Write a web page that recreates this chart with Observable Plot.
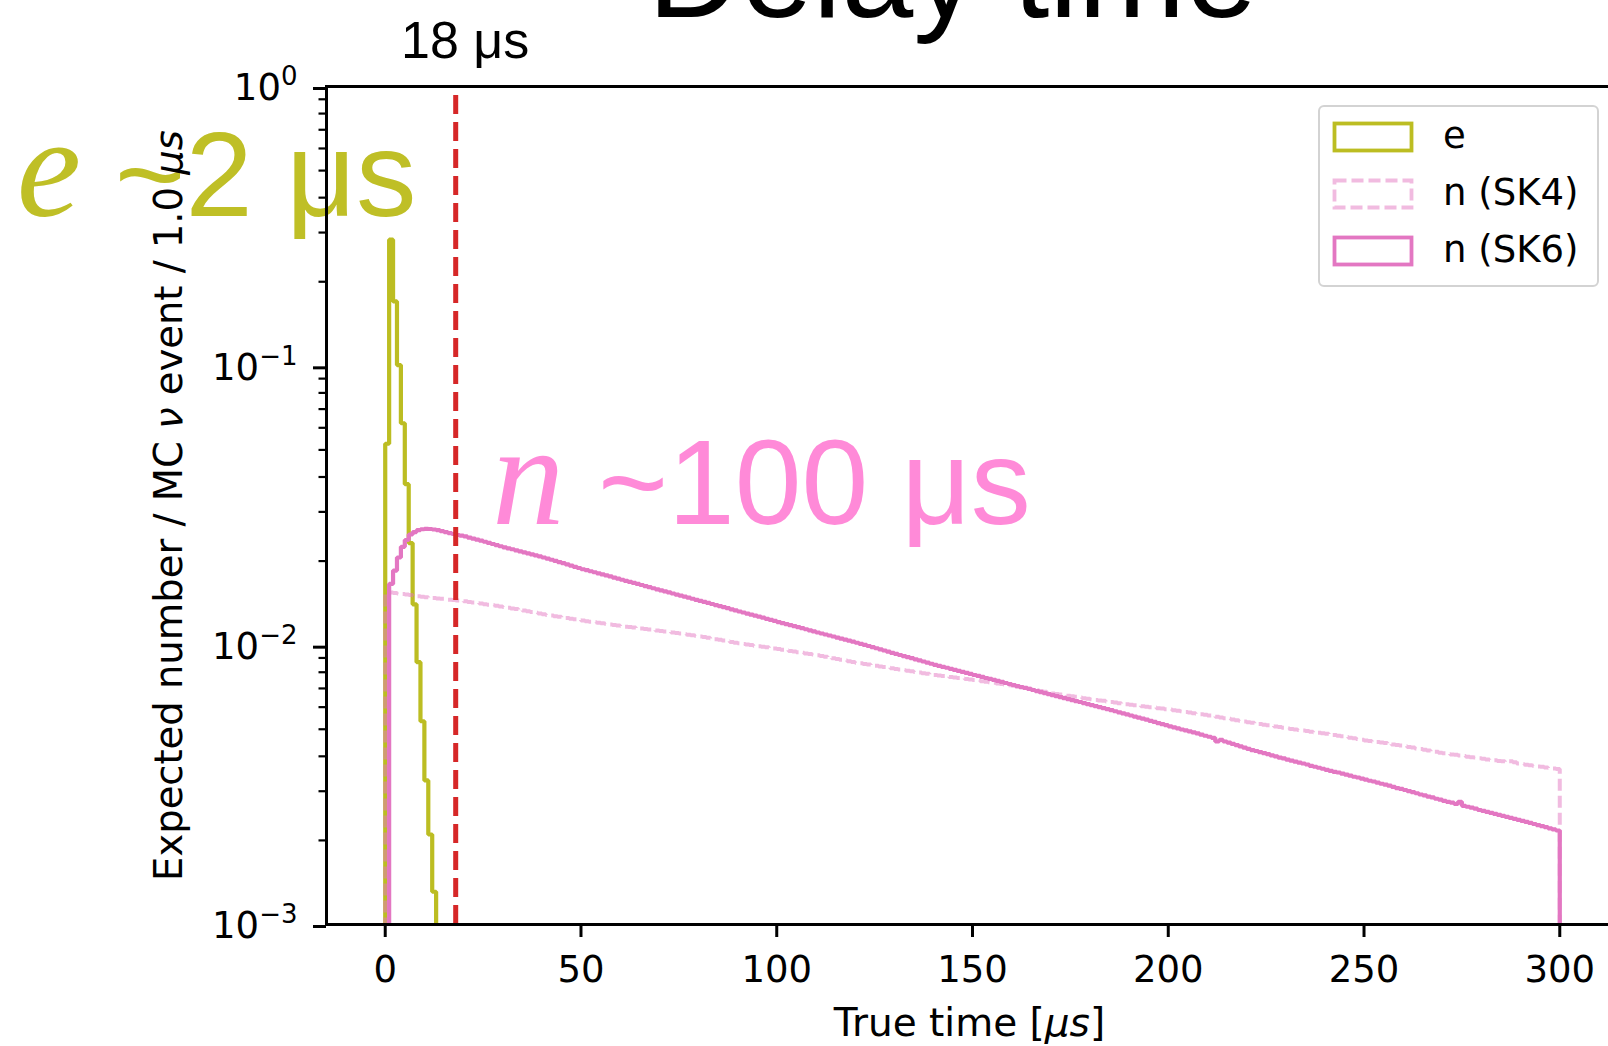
<!DOCTYPE html>
<html>
<head>
<meta charset="utf-8">
<script src="https://cdn.jsdelivr.net/npm/d3@7"></script>
<script src="https://cdn.jsdelivr.net/npm/@observablehq/plot@0.6"></script>
<style>
  html, body { margin: 0; padding: 0; background: #fff; overflow: hidden; }
  #wrap { position: relative; width: 1608px; height: 1046px; overflow: hidden; background: #fff; }
  #legend { position: absolute; left: 1318px; top: 105px; width: 281px; height: 182px; box-sizing: border-box;
            border: 2px solid #d3d3d3; border-radius: 6px; background: rgba(255,255,255,0.8);
            font-family: "DejaVu Sans"; font-size: 37px; color: #000; }
  .lg-row { position: absolute; left: 0; height: 31px; width: 100%; }
  .lg-row svg { position: absolute; left: 12px; top: 0; }
  .lg-row span { position: absolute; left: 123px; top: -7px; line-height: 44px; white-space: nowrap; }
</style>
</head>
<body>
<div id="wrap"><div id="legend"></div></div>
<script>
// ---------------- data ----------------
const seriesNames = ["e", "n (SK4)", "n (SK6)"];
const seriesColors = ["#bcbd22", "#e377c2", "#e377c2"];
const seriesOpacity = [1, 0.5, 1];
const seriesDash = [null, "12,5", null];

const binWidth = 1;     // µs per bin, bins start at 0
const countUnit = 1e-5; // counts below are in units of 1e-5

// electron (Michel e) delay-time histogram
const eCounts = [5260, 28300, 17000, 10060, 6230, 3770, 2320, 1400, 869, 534, 328, 210, 131,
                 80, 50, 31, 19, 12, 7, 4, 3];

// neutron SK4 (pure water) delay-time histogram, 300 bins
const sk4Counts = [
 1550,1543,1537,1530,1524,1517,1511,1504,1498,1491,
 1485,1480,1475,1470,1465,1460,1455,1450,1445,1440,
 1435,1428,1422,1415,1409,1402,1396,1389,1383,1376,
 1370,1362,1354,1346,1338,1330,1322,1314,1306,1298,
 1290,1283,1277,1270,1264,1257,1251,1244,1238,1231,
 1225,1219,1214,1208,1203,1197,1192,1186,1181,1175,
 1170,1165,1161,1156,1152,1147,1143,1138,1134,1129,
 1125,1120,1115,1110,1105,1100,1095,1090,1085,1080,
 1075,1069,1063,1057,1051,1045,1039,1033,1027,1021,
 1015,1010,1006,1001,996,992,987,982,977,973,
 968,963,958,954,949,944,939,934,930,925,
 920,915,909,904,898,893,887,882,876,871,
 865,861,856,852,848,844,839,835,831,826,
 822,818,814,810,806,802,798,794,790,786,
 782,779,776,772,769,766,763,760,756,753,
 750,747,743,740,736,733,729,726,722,719,
 715,711,706,702,698,694,689,685,681,676,
 672,669,666,662,659,656,653,650,646,643,
 640,637,634,632,629,626,623,620,618,615,
 612,610,607,605,602,600,598,595,593,590,
 588,585,582,580,577,574,571,568,566,563,
 560,557,554,551,548,545,542,539,536,533,
 530,527,525,522,519,517,514,511,509,506,
 503,501,499,497,495,493,490,488,486,484,
 482,479,477,474,472,469,466,464,461,459,
 456,454,452,450,448,446,443,441,439,437,
 435,432,430,427,425,422,420,417,415,412,
 410,408,406,405,403,401,399,397,396,394,
 392,390,389,387,385,384,382,384,381,377,
 375,373,372,370,368,367,365,363,362,360
];

// neutron SK6 (Gd-loaded) delay-time histogram, 300 bins
const sk6Counts = [
 0,1657,1850,2060,2250,2380,2490,2540,2580,2600,
 2610,2605,2595,2580,2560,2540,2520,2500,2480,2465,
 2450,2428,2408,2386,2366,2345,2322,2302,2281,2260,
 2240,2222,2205,2186,2168,2150,2132,2114,2096,2078,
 2060,2041,2022,2003,1984,1965,1946,1927,1908,1889,
 1870,1855,1839,1824,1808,1793,1777,1762,1746,1731,
 1715,1700,1686,1672,1657,1642,1628,1613,1599,1584,
 1570,1557,1544,1531,1518,1505,1492,1479,1466,1453,
 1440,1428,1416,1404,1392,1380,1368,1356,1344,1332,
 1320,1309,1298,1287,1276,1265,1254,1243,1232,1221,
 1210,1200,1190,1180,1170,1160,1150,1140,1130,1120,
 1110,1101,1092,1083,1074,1065,1056,1047,1038,1029,
 1020,1011,1002,993,984,975,966,957,948,939,
 930,922,914,906,898,890,882,874,866,858,
 850,843,836,830,823,816,809,802,796,789,
 782,776,770,763,757,751,745,739,732,726,
 720,714,708,703,697,691,685,679,674,668,
 662,657,652,646,641,636,631,626,620,615,
 610,605,600,595,590,585,580,575,570,565,
 560,555,550,546,541,536,531,526,522,517,
 512,508,504,499,495,491,487,483,478,474,
 470,466,452,458,452,448,443,439,434,430,
 425,421,418,414,411,407,403,400,396,393,
 389,386,383,380,377,374,370,367,364,361,
 358,355,352,350,347,344,341,338,336,333,
 330,327,325,322,319,317,314,311,308,306,
 303,300,298,295,292,290,287,285,282,280,
 277,275,273,270,275,266,264,262,260,257,
 255,253,251,249,247,245,243,241,239,237,
 235,233,231,229,227,225,223,221,219,217
];

const cutTime = 18; // µs, red dashed line
const xTicks = [0, 50, 100, 150, 200, 250, 300];
const yMajorTicks = [1e-3, 1e-2, 1e-1, 1];
const yMinorTicks = [0.002,0.003,0.004,0.005,0.006,0.007,0.008,0.009,
                     0.02,0.03,0.04,0.05,0.06,0.07,0.08,0.09,
                     0.2,0.3,0.4,0.5,0.6,0.7,0.8,0.9];
const xDomain = [-15, 315];
const yDomain = [1e-3, 1];
const emptyLevel = 1e-6; // value drawn for empty bins / histogram baseline (off-scale on log axis)

const titleText = "Delay time";
const cutText = "18 μs";
const eText = "e ~2 μs";
const nText = "n ~100 μs";
const xLabelText = "True time [μs]";
const yLabelText = "Expected number / MC ν event / 1.0 μs";

// ---------------- build step outlines (matplotlib histtype="step") ----------------
function stepOutline(counts) {
  const pts = [{x: 0, y: emptyLevel}];
  counts.forEach((c, i) => pts.push({x: i * binWidth, y: c > 0 ? c * countUnit : emptyLevel}));
  const n = counts.length;
  const last = counts[n - 1] > 0 ? counts[n - 1] * countUnit : emptyLevel;
  pts.push({x: n * binWidth, y: last});
  pts.push({x: n * binWidth, y: emptyLevel});
  return pts;
}
const seriesCounts = [eCounts, sk4Counts, sk6Counts];
const seriesWidths = [4.2, 4, 4.2];
const outlines = seriesCounts.map(stepOutline);

const histMarks = outlines.map((pts, k) => Plot.line(pts, {
  x: "x", y: "y", curve: "step-after", clip: true,
  stroke: seriesColors[k], strokeOpacity: seriesOpacity[k], strokeWidth: seriesWidths[k],
  strokeDasharray: seriesDash[k] || undefined, strokeLinejoin: "miter", strokeLinecap: "butt"
}));

const supMinus = s => s.replace("-", "−");

const chart = Plot.plot({
  width: 1618, height: 1046,
  marginLeft: 326, marginRight: 0, marginTop: 86, marginBottom: 122,
  x: {domain: xDomain, label: null},
  y: {type: "log", domain: yDomain, label: null},
  style: {fontFamily: "DejaVu Sans", fontSize: "37px", background: "white", color: "black"},
  marks: [
    // big annotations (drawn first, under axes)
    Plot.text([titleText], {frameAnchor: "top", dx: -20, dy: -70, lineAnchor: "bottom",
      fontSize: 129, fontFamily: "Liberation Sans", fill: "black"}),
    Plot.text([cutText], {x: [20.4], y: [1.27], text: d => d, lineAnchor: "bottom", textAnchor: "middle",
      fontSize: 52, fontFamily: "Liberation Sans", fill: "black"}),
    Plot.text([eText], {x: [-94.1], y: [0.345], text: d => d, lineAnchor: "bottom", textAnchor: "start",
      fontSize: 121, fontFamily: "Liberation Sans", fill: "#bfbf26"}),
    Plot.text([nText], {x: [27.3], y: [0.0272], text: d => d, lineAnchor: "bottom", textAnchor: "start",
      fontSize: 120, fontFamily: "Liberation Sans", fill: "#ff8ad8"}),
    // histograms
    ...histMarks,
    // 18 µs cut line
    Plot.ruleX([cutTime], {y1: yDomain[0], y2: yDomain[1], stroke: "#d62728", strokeWidth: 5, strokeDasharray: "19,8"}),
    // axes
    Plot.axisX({ticks: xTicks, tickSize: 13, tickPadding: 18, strokeWidth: 3, fontSize: 37, tickFormat: d => String(d), label: null}),
    Plot.axisY({ticks: yMajorTicks, tickSize: 13, tickPadding: 16, strokeWidth: 3, fontSize: 37, dy: 2,
      tickFormat: d => supMinus(String(Math.round(Math.log10(d)))), label: null}),
    Plot.axisY({ticks: yMinorTicks, tickSize: 7.5, strokeWidth: 2.2, tickFormat: () => "", label: null}),
    Plot.frame({stroke: "black", strokeWidth: 3}),
    // axis titles
    Plot.text([xLabelText], {frameAnchor: "bottom", dx: -3, dy: 111, lineAnchor: "bottom", textAnchor: "middle",
      fontSize: 39, fontFamily: "DejaVu Sans", fill: "black"}),
    Plot.text([yLabelText], {frameAnchor: "left", dx: -145, rotate: -90, lineAnchor: "bottom", textAnchor: "middle",
      fontSize: 38.5, fontFamily: "DejaVu Sans", fill: "black"})
  ]
});
chart.style.maxWidth = "none";
chart.style.overflow = "visible";
chart.style.position = "absolute";
chart.style.left = "0px";
chart.style.top = "0px";
document.getElementById("wrap").insertBefore(chart, document.getElementById("legend"));

// ---------------- rich text post-processing ----------------
const svg = d3.select(chart);
function rich(content, parts) {
  svg.selectAll("text").filter(function() { return this.textContent === content; }).each(function() {
    const t = d3.select(this);
    t.text(null);
    parts.forEach(p => {
      const ts = t.append("tspan").text(p.t);
      if (p.italic) ts.attr("font-style", "italic").style("font-style", "italic");
      if (p.family) ts.attr("font-family", p.family).style("font-family", p.family);
      if (p.size) ts.attr("font-size", p.size).style("font-size", p.size + "px");
    });
  });
}
rich(eText, [{t: "e", italic: true, family: "Liberation Serif", size: 145}, {t: " ~2 μs"}]);
rich(nText, [{t: "n", italic: true, family: "Liberation Serif", size: 145}, {t: " ~100 μs"}]);
rich(xLabelText, [{t: "True time ["}, {t: "μs", italic: true}, {t: "]"}]);
rich(yLabelText, [{t: "Expected number / MC "}, {t: "ν", italic: true}, {t: " event / 1.0 "}, {t: "μs", italic: true}]);

// y tick labels: 10^k with superscript
svg.selectAll('g[aria-label="y-axis tick label"] text').each(function() {
  const s = this.textContent;
  if (!s) return;
  const t = d3.select(this);
  t.text("10");
  t.append("tspan").attr("dy", -15).attr("font-size", 26).text(s);
});

// ---------------- legend ----------------
const legend = d3.select("#legend");
seriesNames.forEach((name, k) => {
  const row = legend.append("div").attr("class", "lg-row").style("top", (14 + 57 * k) + "px");
  const s = row.append("svg").attr("width", 84).attr("height", 33);
  s.append("rect").attr("x", 2.5).attr("y", 2.5).attr("width", 77).attr("height", 27)
    .attr("fill", "none").attr("stroke", seriesColors[k]).attr("stroke-opacity", seriesOpacity[k])
    .attr("stroke-width", 3.8).attr("stroke-dasharray", seriesDash[k]);
  row.append("span").text(name);
});
</script>
</body>
</html>
